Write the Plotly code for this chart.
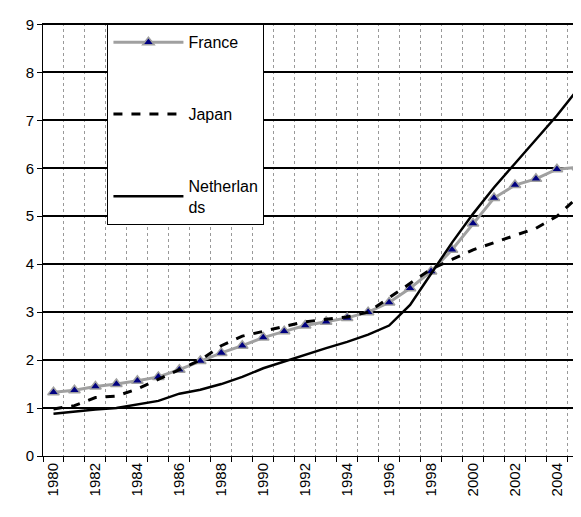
import plotly.graph_objects as go

years = list(range(1980, 2006))
france = [1.33,1.37,1.45,1.5,1.57,1.65,1.8,1.98,2.15,2.3,2.47,2.6,2.72,2.8,2.88,3.0,3.2,3.5,3.85,4.3,4.85,5.38,5.65,5.78,5.98,6.02]
japan = [0.98,1.05,1.22,1.25,1.4,1.6,1.8,2.0,2.3,2.5,2.6,2.7,2.8,2.85,2.9,3.0,3.3,3.6,3.9,4.1,4.3,4.45,4.6,4.75,5.0,5.4]
netherlands = [0.88,0.93,0.97,1.0,1.07,1.15,1.3,1.38,1.5,1.65,1.83,1.97,2.12,2.25,2.38,2.53,2.72,3.15,3.8,4.45,5.05,5.6,6.1,6.6,7.1,7.65]

fig = go.Figure()
fig.add_trace(go.Scatter(x=years, y=france, name="France ", mode="lines+markers", legendgroup="a",
    line=dict(color="#a0a0a0", width=3),
    marker=dict(symbol="triangle-up", size=10, color="#000080", line=dict(color="#a0a0a0", width=1.5))))
fig.add_trace(go.Scatter(x=years, y=japan, name="Japan", mode="lines", legendgroup="b",
    line=dict(color="black", width=3, dash="dash")))
fig.add_trace(go.Scatter(x=years, y=netherlands, name="Netherlan<br>ds", mode="lines", legendgroup="c",
    line=dict(color="black", width=2.5)))

fig.update_layout(
    width=581, height=517, paper_bgcolor="white", plot_bgcolor="white",
    margin=dict(l=35, r=9, t=8, b=69),
    font=dict(family="Liberation Sans, Arial", size=15, color="black"),
    legend=dict(x=0.12, y=0.997, xanchor="left", yanchor="top", bgcolor="white",
                bordercolor="black", borderwidth=1, tracegroupgap=48,
                font=dict(size=16), itemwidth=70),
    xaxis=dict(range=[1979.5, 2005.1], tickmode="array", tickvals=list(range(1980, 2006, 2)),
               tickangle=-90, showgrid=False, showline=True, linecolor="black", linewidth=1,
               ticks="",
               minor=dict(dtick=1, tick0=1979.5, showgrid=True, gridcolor="#999", griddash="dot", gridwidth=1,
                          ticks="outside", ticklen=5, tickcolor="black")),
    yaxis=dict(range=[0, 9.03], tickmode="array", tickvals=list(range(0, 10)), showgrid=True, gridcolor="black", gridwidth=1.5,
               showline=True, linecolor="black", ticks="outside", ticklen=5, tickcolor="black"),
)
fig.write_html("out.html")
